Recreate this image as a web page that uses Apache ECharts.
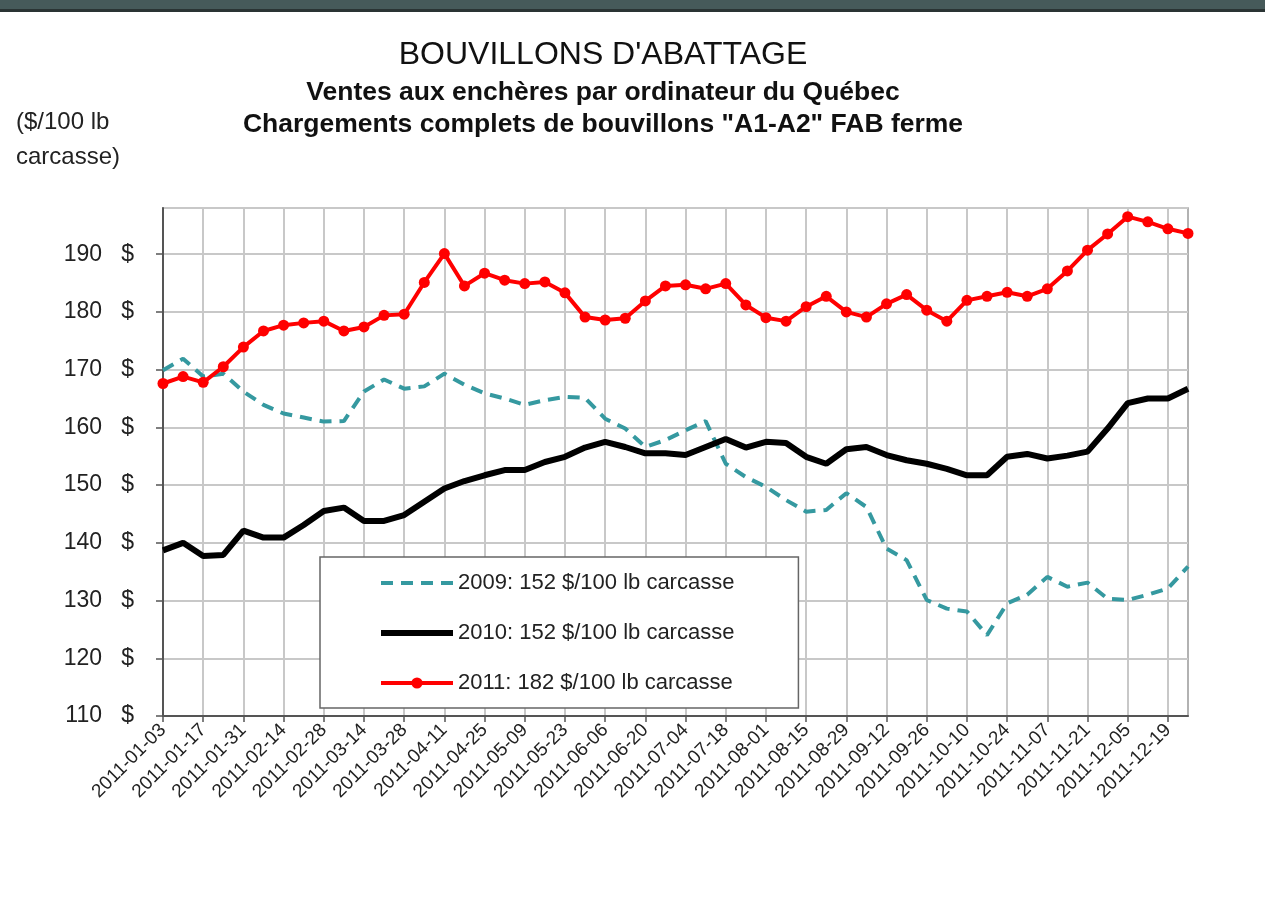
<!DOCTYPE html>
<html>
<head>
<meta charset="utf-8">
<script src="https://cdn.jsdelivr.net/npm/echarts@6/dist/echarts.min.js"></script>
<style>
html,body{margin:0;padding:0;background:#fff;}
#chart{width:1265px;height:902px;}
</style>
</head>
<body>
<div id="chart"></div>
<script>
// Weekly dates (categories)
var categories = [
  "2011-01-03","2011-01-10","2011-01-17","2011-01-24","2011-01-31","2011-02-07","2011-02-14","2011-02-21",
  "2011-02-28","2011-03-07","2011-03-14","2011-03-21","2011-03-28","2011-04-04","2011-04-11","2011-04-18",
  "2011-04-25","2011-05-02","2011-05-09","2011-05-16","2011-05-23","2011-05-30","2011-06-06","2011-06-13",
  "2011-06-20","2011-06-27","2011-07-04","2011-07-11","2011-07-18","2011-07-25","2011-08-01","2011-08-08",
  "2011-08-15","2011-08-22","2011-08-29","2011-09-05","2011-09-12","2011-09-19","2011-09-26","2011-10-03",
  "2011-10-10","2011-10-17","2011-10-24","2011-10-31","2011-11-07","2011-11-14","2011-11-21","2011-11-28",
  "2011-12-05","2011-12-12","2011-12-19","2011-12-26"
];

var values2009 = [169.9,171.9,168.8,169.3,166.2,163.9,162.4,161.7,161.0,161.1,
  166.2,168.3,166.7,167.1,169.3,167.4,165.9,165.0,163.9,164.7,
  165.3,165.1,161.5,159.8,156.6,157.8,159.5,161.1,153.7,151.4,
  149.7,147.4,145.4,145.7,148.6,146.2,139.0,137.0,130.1,128.6,
  128.1,124.0,129.5,131.0,134.1,132.4,133.1,130.3,130.1,131.0,
  132.1,135.9];

var values2010 = [138.7,140.0,137.7,137.9,142.1,140.9,140.9,143.1,145.5,146.1,
  143.8,143.8,144.8,147.1,149.4,150.7,151.7,152.6,152.6,154.0,
  154.9,156.5,157.5,156.6,155.5,155.5,155.2,156.6,158.0,156.5,
  157.5,157.3,154.9,153.7,156.2,156.6,155.2,154.3,153.7,152.8,
  151.7,151.7,154.9,155.4,154.6,155.1,155.8,159.8,164.2,165.0,
  165.0,166.7];

var values2011 = [167.6,168.8,167.8,170.5,173.9,176.7,177.7,178.1,178.4,176.7,
  177.4,179.4,179.6,185.1,190.1,184.5,186.7,185.5,184.9,185.2,
  183.3,179.1,178.6,178.9,181.9,184.5,184.7,184.0,184.9,181.2,
  179.0,178.4,180.9,182.7,180.0,179.1,181.4,183.0,180.3,178.4,
  182.0,182.7,183.4,182.7,184.0,187.1,190.7,193.5,196.5,195.6,
  194.4,193.6];

var seriesNames = ["2009", "2010", "2011"];
var seriesAverages = [152, 152, 182];

var FONT = "'Liberation Sans', Arial, sans-serif";
var TEAL = '#3599a0';
var chart = echarts.init(document.getElementById('chart'));

var option = {
  backgroundColor: '#ffffff',
  animation: false,
  textStyle: { fontFamily: FONT },
  graphic: [
    { type: 'rect', left: 0, top: 0, shape: { width: 1265, height: 9 }, style: { fill: '#465a5a' }, z: 100 },
    { type: 'rect', left: 0, top: 9, shape: { width: 1265, height: 3 }, style: { fill: '#2a3434' }, z: 100 }
  ],
  title: [
    { text: "BOUVILLONS D'ABATTAGE", left: 598, top: 34, textAlign: 'center',
      textStyle: { fontFamily: FONT, fontSize: 32, fontWeight: 'normal', color: '#111' } },
    { text: "Ventes aux enchères par ordinateur du Québec\nChargements complets de bouvillons \"A1-A2\" FAB ferme",
      left: 598, top: 72, textAlign: 'center',
      textStyle: { fontFamily: FONT, fontSize: 26.5, fontWeight: 'bold', color: '#111', lineHeight: 32 } },
    { text: "($/100 lb\ncarcasse)", left: 11, top: 100,
      textStyle: { fontFamily: FONT, fontSize: 24, fontWeight: 'normal', color: '#222', lineHeight: 35 } }
  ],
  grid: {
    left: 163, top: 208, right: 77, bottom: 186,
    show: true, borderColor: '#999', borderWidth: 1.5, backgroundColor: 'transparent'
  },
  legend: {
    orient: 'vertical',
    left: 320, top: 557,
    padding: [15, 64, 14, 58],
    itemWidth: 72, itemHeight: 14, itemGap: 28,
    backgroundColor: '#fff',
    borderColor: '#666', borderWidth: 1.5,
    data: [
      { name: seriesNames[0], itemStyle: { color: 'rgba(0,0,0,0)', borderWidth: 0, opacity: 0 },
        lineStyle: { width: 4, type: [12, 8], color: TEAL } },
      { name: seriesNames[1], itemStyle: { color: 'rgba(0,0,0,0)', borderWidth: 0, opacity: 0 },
        lineStyle: { width: 6, color: '#000' } },
      { name: seriesNames[2], lineStyle: { width: 4, color: '#ff0000' } }
    ],
    formatter: function (name) {
      var i = seriesNames.indexOf(name);
      return name + ': ' + seriesAverages[i] + ' $/100 lb carcasse';
    },
    textStyle: { fontFamily: FONT, fontSize: 22, color: '#222' }
  },
  xAxis: {
    type: 'category',
    data: categories,
    boundaryGap: false,
    axisLine: { lineStyle: { color: '#555', width: 2 } },
    axisTick: { show: true, interval: 1, length: 6, lineStyle: { color: '#555', width: 1.5 } },
    axisLabel: { interval: 1, rotate: 45, fontSize: 19, color: '#222', margin: 11, fontFamily: FONT },
    splitLine: { show: true, interval: 1, lineStyle: { color: '#c8c8c8', width: 2 } }
  },
  yAxis: {
    type: 'value',
    min: 110, max: 198, interval: 10,
    axisLine: { show: true, lineStyle: { color: '#555', width: 2 } },
    axisTick: { show: true, inside: false, length: 7, lineStyle: { color: '#555', width: 1.5 } },
    axisLabel: { showMaxLabel: false, fontSize: 23, color: '#222', margin: 29, fontFamily: FONT,
      formatter: function (v) { return v + '   $'; } },
    splitLine: { show: true, lineStyle: { color: '#c8c8c8', width: 2 } }
  },
  series: [
    { name: seriesNames[0], type: 'line', data: values2009, symbol: 'none',
      lineStyle: { color: TEAL, width: 4, type: [12, 8] }, itemStyle: { color: TEAL }, z: 2 },
    { name: seriesNames[1], type: 'line', data: values2010, symbol: 'none',
      lineStyle: { color: '#000', width: 6 }, itemStyle: { color: '#000' }, z: 3 },
    { name: seriesNames[2], type: 'line', data: values2011, symbol: 'circle', symbolSize: 11,
      lineStyle: { color: '#ff0000', width: 4 }, itemStyle: { color: '#ff0000' }, z: 4 }
  ]
};
chart.setOption(option);
</script>
</body>
</html>
